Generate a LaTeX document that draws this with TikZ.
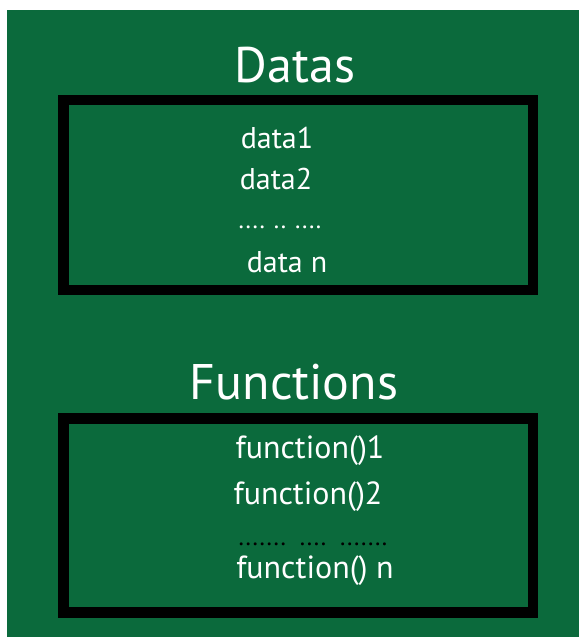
\documentclass[tikz,border=0pt]{standalone}
\usepackage{fontspec}
\setmainfont{PT Sans}
\definecolor{bggreen}{RGB}{11,106,60}
\begin{document}
\begin{tikzpicture}[x=1pt,y=-1pt,
  frame/.style={draw=black,line width=10.5pt},
  title/.style={text=white,anchor=base,inner sep=0pt,font=\fontsize{50}{56}\selectfont},
  item/.style={text=white,anchor=base,inner sep=0pt,font=\fontsize{30}{35}\selectfont},
  fitem/.style={text=white,anchor=base,inner sep=0pt,font=\fontsize{32}{38}\selectfont},
  dotsw/.style={text=white,anchor=base,inner sep=0pt,font=\fontsize{25}{30}\selectfont},
  dotsb/.style={text=black,anchor=base,inner sep=0pt,font=\fontsize{25}{30}\selectfont}]
\useasboundingbox (0,0) rectangle (579,637);
\fill[white] (0,0) rectangle (579,637);
\fill[bggreen] (7,10) rectangle (579,637);
\draw[frame] (63.5,100) rectangle (533,290);
\draw[frame] (63.5,418.5) rectangle (533,612.5);
\node[title] (datas) at (295,82) {Datas};
\node[item] (d1) at (277,148) {data1};
\node[item] (d2) at (276,189) {data2};
\node[dotsw] (dd) at (280,228) {.... .. ....};
\node[item] (dn) at (287,272) {data n};
\node[title] (funcs) at (294,399) {Functions};
\node[fitem] (f1) at (310,458) {function()1};
\node[fitem] (f2) at (308,504) {function()2};
\node[dotsb] (fd) at (313,545) {.......\hspace{14pt}....\hspace{14pt}.......};
\node[fitem] (fn) at (315,578) {function() n};
\end{tikzpicture}
\end{document}
